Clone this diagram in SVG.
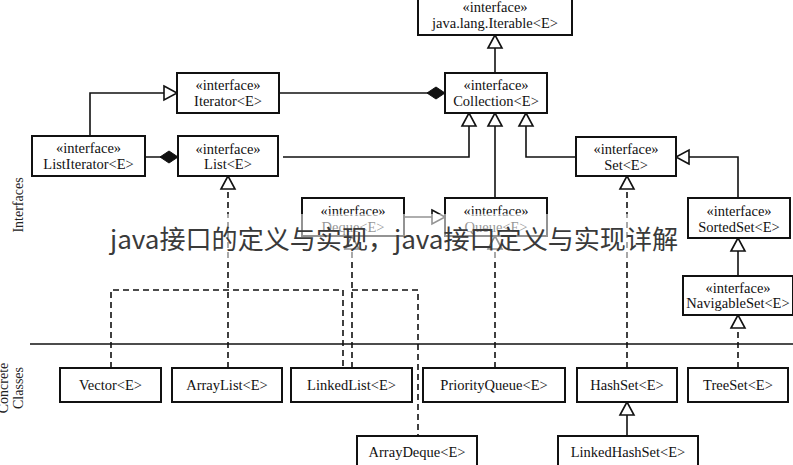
<svg xmlns="http://www.w3.org/2000/svg" width="793" height="465" viewBox="0 0 793 465">
<style>
.box{fill:#fff;stroke:#111;stroke-width:2}
.t{font-family:"Liberation Serif","Times New Roman",serif;font-size:14.5px;fill:#111;text-anchor:middle}
.side{font-family:"Liberation Serif","Times New Roman",serif;font-size:14px;fill:#222;text-anchor:middle}
.c{fill:none;stroke:#111;stroke-width:1.6}
.d{stroke-dasharray:6 4}
.wm{font-family:"Noto Sans CJK SC","Noto Sans",sans-serif;font-size:26px;fill:#3a3a3a}
</style>
<defs>
<marker id="tri" markerUnits="userSpaceOnUse" markerWidth="16" markerHeight="16" refX="13" refY="7" orient="auto" overflow="visible">
<path d="M0,0 L13,7 L0,14 Z" fill="#fff" stroke="#111" stroke-width="1.6" stroke-dasharray="none"/>
</marker>
<marker id="dia" markerUnits="userSpaceOnUse" markerWidth="20" markerHeight="14" refX="18" refY="6" orient="auto" overflow="visible">
<path d="M0,6 L9,0 L18,6 L9,12 Z" fill="#111" stroke="#111" stroke-width="1" stroke-dasharray="none"/>
</marker>
</defs>
<rect width="793" height="465" fill="#fff"/>

<g id="connectors">
<path class="c" d="M495,73 V35" marker-end="url(#tri)"/>
<path class="c" d="M279,93 H445" marker-end="url(#dia)"/>
<path class="c" d="M90,136 V93 H177" marker-end="url(#tri)"/>
<path class="c" d="M145,157 H178" marker-end="url(#dia)"/>
<path class="c" d="M283,157 H469 V113" marker-end="url(#tri)"/>
<path class="c" d="M495,198 V113" marker-end="url(#tri)"/>
<path class="c" d="M576,157 H526 V113" marker-end="url(#tri)"/>
<path class="c" d="M738,198 V157 H676" marker-end="url(#tri)"/>
<path class="c" d="M738,276 V238" marker-end="url(#tri)"/>
<path class="c" d="M404,217 H445" marker-end="url(#tri)"/>
<path class="c d" d="M738,368 V315" marker-end="url(#tri)"/>
<path class="c d" d="M627,368 V176" marker-end="url(#tri)"/>
<path class="c d" d="M495,368 V236" marker-end="url(#tri)"/>
<path class="c d" d="M228,368 V176" marker-end="url(#tri)"/>
<path class="c d" d="M111,368 V290 H343 V368"/>
<path class="c d" d="M352,368 V236" marker-end="url(#tri)"/>
<path class="c d" d="M352,290 H418 V436"/>
<path class="c" d="M627,436 V402" marker-end="url(#tri)"/>
<path class="c" d="M30,344 H793"/>
</g>

<g id="iterable"><rect class="box" x="418" y="-5" width="154" height="40"/><text class="t" x="495" y="12">«interface»</text><text class="t" x="495" y="28">java.lang.Iterable&lt;E&gt;</text></g>
<g id="iterator"><rect class="box" x="177" y="73" width="102" height="40"/><text class="t" x="228" y="90">«interface»</text><text class="t" x="228" y="106">Iterator&lt;E&gt;</text></g>
<g id="collection"><rect class="box" x="445" y="73" width="102" height="40"/><text class="t" x="496" y="90">«interface»</text><text class="t" x="496" y="106">Collection&lt;E&gt;</text></g>
<g id="listiterator"><rect class="box" x="32" y="136" width="113" height="40"/><text class="t" x="88.5" y="153">«interface»</text><text class="t" x="88.5" y="169">ListIterator&lt;E&gt;</text></g>
<g id="list"><rect class="box" x="178" y="136" width="100" height="40"/><text class="t" x="228" y="154">«interface»</text><text class="t" x="228" y="169">List&lt;E&gt;</text></g>
<g id="set"><rect class="box" x="576" y="137" width="100" height="39"/><text class="t" x="626" y="154">«interface»</text><text class="t" x="626" y="170">Set&lt;E&gt;</text></g>
<g id="deque"><rect class="box" x="302" y="198" width="102" height="38"/><text class="t" x="353" y="216">«interface»</text><text class="t" x="353" y="232">Deque&lt;E&gt;</text></g>
<g id="queue"><rect class="box" x="445" y="198" width="102" height="38"/><text class="t" x="496" y="216">«interface»</text><text class="t" x="496" y="232">Queue&lt;E&gt;</text></g>
<g id="sortedset"><rect class="box" x="688" y="198" width="102" height="40"/><text class="t" x="739" y="216">«interface»</text><text class="t" x="739" y="232">SortedSet&lt;E&gt;</text></g>
<g id="navigableset"><rect class="box" x="683" y="276" width="110" height="39"/><text class="t" x="738" y="293">«interface»</text><text class="t" x="738" y="308">NavigableSet&lt;E&gt;</text></g>
<g id="vector"><rect class="box" x="60" y="368" width="101" height="34"/><text class="t" x="110.5" y="390">Vector&lt;E&gt;</text></g>
<g id="arraylist"><rect class="box" x="172" y="368" width="110" height="34"/><text class="t" x="227" y="390">ArrayList&lt;E&gt;</text></g>
<g id="linkedlist"><rect class="box" x="291" y="368" width="121" height="34"/><text class="t" x="351.5" y="390">LinkedList&lt;E&gt;</text></g>
<g id="priorityqueue"><rect class="box" x="423" y="368" width="142" height="34"/><text class="t" x="494" y="390">PriorityQueue&lt;E&gt;</text></g>
<g id="hashset"><rect class="box" x="577" y="368" width="100" height="34"/><text class="t" x="627" y="390">HashSet&lt;E&gt;</text></g>
<g id="treeset"><rect class="box" x="688" y="368" width="100" height="34"/><text class="t" x="738" y="390">TreeSet&lt;E&gt;</text></g>
<g id="arraydeque"><rect class="box" x="357" y="436" width="120" height="36"/><text class="t" x="417" y="457">ArrayDeque&lt;E&gt;</text></g>
<g id="linkedhashset"><rect class="box" x="558" y="436" width="140" height="36"/><text class="t" x="628" y="457">LinkedHashSet&lt;E&gt;</text></g>

<g id="labels">
<text class="side" transform="translate(23,205) rotate(-90)">Interfaces</text>
<text class="side" transform="translate(8,388) rotate(-90)">Concrete</text>
<text class="side" transform="translate(23,388) rotate(-90)">Classes</text>
</g>

<g id="watermark">
<rect x="98" y="214" width="586" height="44" fill="#fff" opacity="0.55"/>
<text class="wm" x="110" y="249" textLength="568" lengthAdjust="spacingAndGlyphs">java接口的定义与实现，java接口定义与实现详解</text>
</g>
</svg>
